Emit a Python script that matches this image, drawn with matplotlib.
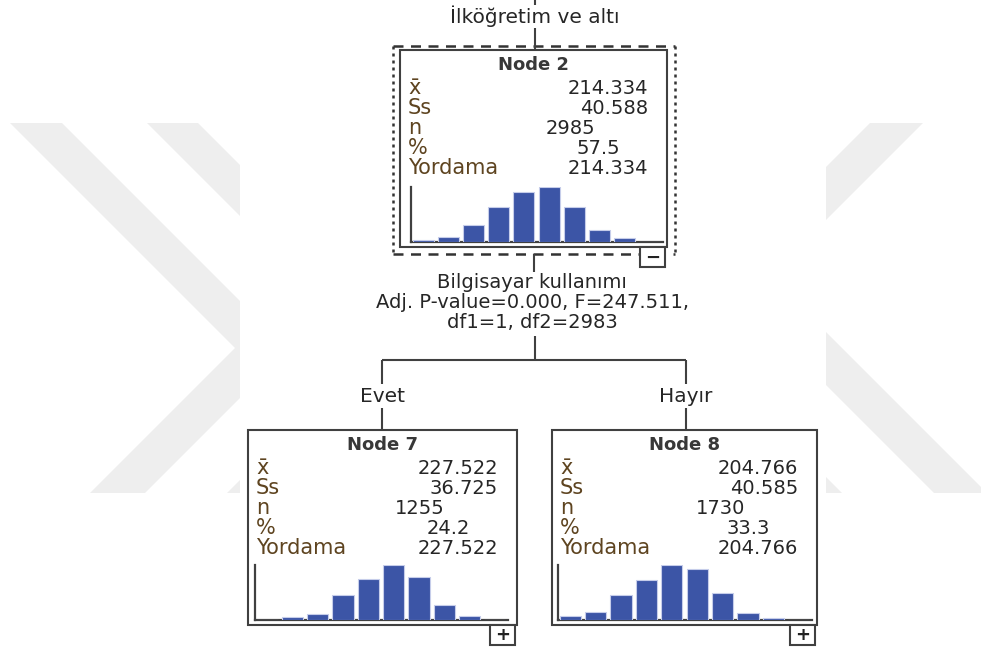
import matplotlib.pyplot as plt
from matplotlib.patches import Polygon, Rectangle

plt.rcParams['font.family'] = ['DejaVu Sans']

# node statistics
node_names = ['Node 2', 'Node 7', 'Node 8']
means = [214.334, 227.522, 204.766]
sds = [40.588, 36.725, 40.585]
counts = [2985, 1255, 1730]
pcts = [57.5, 24.2, 33.3]
preds = [214.334, 227.522, 204.766]
row_labels = ['x̄', 'Ss', 'n', '%', 'Yordama']

# relative bin heights of the small histograms (10 bins each)
hist_node2 = [2.3, 5, 16.7, 34, 49, 54, 34, 12, 3.7, 0]
hist_node7 = [0, 3, 6, 25, 40, 54, 42, 15, 4, 0]
hist_node8 = [4, 8, 25, 40, 55, 51, 27, 7, 2.3, 0]

root_label = 'İlköğretim ve altı'
split_text = ['Bilgisayar kullanımı',
              'Adj. P-value=0.000, F=247.511,',
              'df1=1, df2=2983']
branch_labels = ['Evet', 'Hayır']

W, H = 981, 650
fig = plt.figure(figsize=(W / 100, H / 100), dpi=100)
ax = fig.add_axes([0, 0, 1, 1])
ax.set_xlim(0, W)
ax.set_ylim(H, 0)
ax.axis('off')

# background logo stripes
wm = '#eeeeee'
shapes = [
    [(10, 123), (62, 123), (288.5, 349.5), (145, 493), (90, 493), (235, 348)],
    [(147, 123), (198, 123), (568, 493), (517, 493)],
    [(227, 493), (279, 493), (420, 352), (368, 352)],
    [(870, 123), (923, 123), (700, 346), (647, 346)],
    [(760, 266), (987, 493), (934, 493), (760, 319)],
    [(842, 493), (790, 493), (700, 403), (752, 403)],
]
for pts in shapes:
    ax.add_patch(Polygon(pts, closed=True, fc=wm, ec='none', zorder=0))
ax.add_patch(Rectangle((240, 100), 586, 400, fc='white', ec='none', zorder=1))

lc = '#404040'
tc = '#262626'
lw = 1.5


def line(xs, ys):
    ax.plot(xs, ys, color=lc, lw=lw, solid_capstyle='butt', zorder=3)


def node(x0, x1, top, bottom, idx, hist, hist_box, sign):
    ax.add_patch(Rectangle((x0, top), x1 - x0, bottom - top, fc='white',
                           ec=lc, lw=lw, zorder=2))
    cx = (x0 + x1) / 2
    ax.text(cx, top + 15, node_names[idx], ha='center', va='center',
            fontsize=13, fontweight='bold', color='#383838', zorder=4)
    values = [f'{means[idx]:.3f}', f'{sds[idx]:.3f}', f'{counts[idx]}',
              f'{pcts[idx]:.1f}', f'{preds[idx]:.3f}']
    offsets = [19, 19, 72, 47, 19]
    for i, (lab, val) in enumerate(zip(row_labels, values)):
        y = top + 38 + 20 * i
        ax.text(x0 + 8, y, lab, ha='left', va='center', fontsize=15,
                color='#5e4420', zorder=4)
        ax.text(x1 - offsets[i], y, val, ha='right', va='center',
                fontsize=14, color=tc, zorder=4)

    # histogram
    hx0, hy0, hx1, hy1 = hist_box
    hax = fig.add_axes([hx0 / W, 1 - hy1 / H, (hx1 - hx0) / W, (hy1 - hy0) / H])
    bins = list(range(len(hist)))
    hax.bar([b + 0.06 for b in bins], hist, width=0.84, align='edge',
            color='#3c55a6', edgecolor='#c6cdea', linewidth=0.8, zorder=3)
    hax.set_xlim(0, len(hist))
    hax.set_ylim(0, max(hist))
    hax.set_xticks([])
    hax.set_yticks([])
    for s in ['top', 'right']:
        hax.spines[s].set_visible(False)
    for s in ['left', 'bottom']:
        hax.spines[s].set_color(lc)
        hax.spines[s].set_linewidth(1.6)
    hax.patch.set_alpha(0)

    # expand / collapse button
    bx0 = x1 - 27
    ax.add_patch(Rectangle((bx0, bottom), 25, 20, fc='white', ec=lc, lw=lw, zorder=4))
    ax.text(bx0 + 12.5, bottom + 10.5, sign, ha='center', va='center',
            fontsize=13, fontweight='bold', color='#222222', zorder=5)
    return cx


# root node with selection frame
for xs, ys, ls in [([393, 675], [46, 46], (0, (4, 3))),
                   ([393, 675], [254, 254], (0, (4, 3))),
                   ([393, 393], [46, 254], (0, (1.2, 1.6))),
                   ([675, 675], [46, 254], (0, (1.2, 1.6)))]:
    ax.plot(xs, ys, color='#333333', lw=1.8, linestyle=ls, zorder=3)
node(400, 667, 50, 247, 0, hist_node2, (411, 187, 663, 242), '−')
node(248, 517, 430, 625, 1, hist_node7, (255, 565, 508, 620), '+')
node(552, 817, 430, 625, 2, hist_node8, (558, 565, 812, 620), '+')

# tree edges and labels
line([535, 535], [0, 5])
ax.text(535, 16, root_label, ha='center', va='center', fontsize=14.5,
        color=tc, zorder=4)
line([535, 535], [28, 50])
line([534, 534], [254, 272])
for i, t in enumerate(split_text):
    ax.text(532, 283 + 20 * i, t, ha='center', va='center', fontsize=14,
            color=tc, zorder=4)
line([535, 535], [336, 360])
line([382, 686], [360, 360])
for bx, lab in zip([382, 686], branch_labels):
    line([bx, bx], [360, 384])
    ax.text(bx, 396, lab, ha='center', va='center', fontsize=14.5,
            color=tc, zorder=4)
    line([bx, bx], [408, 430])

fig.savefig('out.png', dpi=100, facecolor='white')
